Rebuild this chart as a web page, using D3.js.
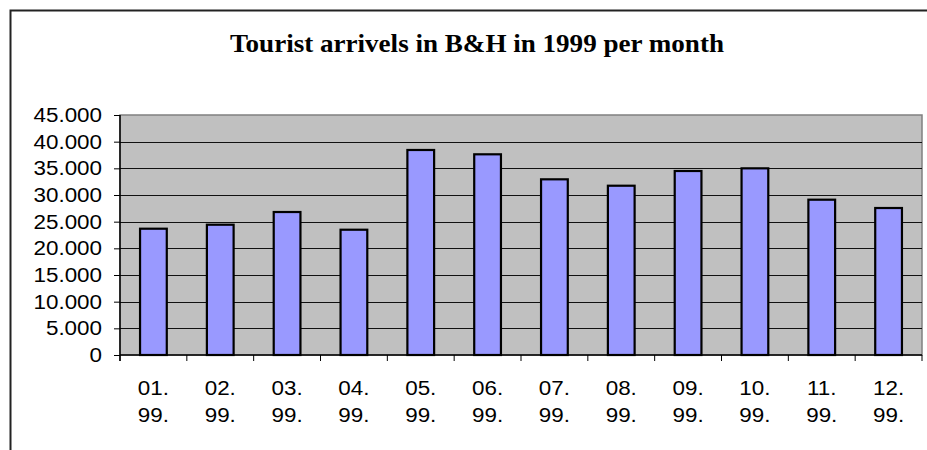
<!DOCTYPE html>
<html>
<head>
<meta charset="utf-8">
<script src="https://cdn.jsdelivr.net/npm/d3@7"></script>
<style>
  body { margin: 0; background: #fff; }
  svg { display: block; }
</style>
</head>
<body>
<div id="chart"></div>
<script>
// Set SVG area
var svgWidth = 927;
var svgHeight = 450;

// Plot area inside the chart frame
var margin = { top: 115, right: 6, bottom: 95, left: 120 };
var width = 922 - margin.left;
var height = 355 - margin.top;

// Data
var months = ["01.", "02.", "03.", "04.", "05.", "06.", "07.", "08.", "09.", "10.", "11.", "12."];
var yearLabel = "99.";
var arrivals = [23680, 24430, 26810, 23490, 38440, 37630, 32940, 31740, 34500, 35000, 29120, 27560];
var yTicks = [0, 5000, 10000, 15000, 20000, 25000, 30000, 35000, 40000, 45000];
var titleText = "Tourist arrivels in B&H in 1999 per month";

var svg = d3.select("#chart")
  .append("svg")
  .attr("width", svgWidth)
  .attr("height", svgHeight);

// outer chart frame (runs off the right and bottom)
svg.append("rect")
  .attr("x", 10.5)
  .attr("y", 10.5)
  .attr("width", 940)
  .attr("height", 460)
  .attr("fill", "#fff")
  .attr("stroke", "#222")
  .attr("stroke-width", 2);

// title
var title = svg.append("text")
  .attr("x", 477)
  .attr("y", 52)
  .attr("text-anchor", "middle")
  .style("font-family", "'Liberation Serif', 'Times New Roman', serif")
  .style("font-weight", "bold")
  .style("font-size", "25px")
  .text(titleText);
title.attr("textLength", 494).attr("lengthAdjust", "spacingAndGlyphs");

var chartGroup = svg.append("g")
  .attr("transform", `translate(${margin.left}, ${margin.top})`);

// scales
var xScale = d3.scaleBand()
  .domain(months)
  .range([0, width])
  .padding(0);

var yScale = d3.scaleLinear()
  .domain([0, 45000])
  .range([height, 0]);

// plot background
chartGroup.append("rect")
  .attr("x", 0)
  .attr("y", 0)
  .attr("width", width)
  .attr("height", height)
  .attr("fill", "#c0c0c0")
  .attr("stroke", "#808080")
  .attr("stroke-width", 1.5);

// gridlines
chartGroup.append("g")
  .selectAll("line")
  .data(yTicks.filter(d => d > 0 && d < 45000))
  .enter()
  .append("line")
  .attr("x1", 0)
  .attr("x2", width)
  .attr("y1", d => Math.round(yScale(d)) + 0.5)
  .attr("y2", d => Math.round(yScale(d)) + 0.5)
  .attr("stroke", "#111")
  .attr("stroke-width", 1);

// bars, Excel gap width 150%
var barWidth = xScale.bandwidth() / 2.5;
chartGroup.selectAll(".bar")
  .data(arrivals)
  .enter()
  .append("rect")
  .attr("class", "bar")
  .attr("x", (d, i) => xScale(months[i]) + (xScale.bandwidth() - barWidth) / 2)
  .attr("y", d => yScale(d))
  .attr("width", barWidth)
  .attr("height", d => height - yScale(d))
  .attr("fill", "#9999ff")
  .attr("stroke", "#000")
  .attr("stroke-width", 2.2);

// y axis
var leftAxis = d3.axisLeft(yScale)
  .tickValues(yTicks)
  .tickSize(6)
  .tickPadding(12)
  .tickFormat(d => d === 0 ? "0" : d3.format(",")(d).replace(/,/g, "."));

var yAxis = chartGroup.append("g").call(leftAxis);
yAxis.select(".domain").attr("stroke", "#000").attr("stroke-width", 1.5)
  .attr("d", `M0,0V${height + 6}`);
yAxis.selectAll(".tick line").attr("stroke", "#000");
yAxis.selectAll("text")
  .style("font-family", "'Liberation Sans', Arial, sans-serif")
  .style("font-size", "20px")
  .attr("fill", "#000");

// x axis: ticks at the category boundaries
var xAxis = chartGroup.append("g")
  .attr("transform", `translate(0, ${height})`);
xAxis.append("line")
  .attr("x1", 0).attr("x2", width)
  .attr("y1", 0).attr("y2", 0)
  .attr("stroke", "#000").attr("stroke-width", 1.5);
xAxis.selectAll(".xtick")
  .data(d3.range(months.length + 1))
  .enter()
  .append("line")
  .attr("class", "xtick")
  .attr("x1", i => i * xScale.step())
  .attr("x2", i => i * xScale.step())
  .attr("y1", 0)
  .attr("y2", 6)
  .attr("stroke", "#000");

var xLabels = xAxis.selectAll(".xlabel")
  .data(months)
  .enter()
  .append("text")
  .attr("class", "xlabel")
  .attr("x", d => xScale(d) + xScale.bandwidth() / 2)
  .attr("text-anchor", "middle")
  .style("font-family", "'Liberation Sans', Arial, sans-serif")
  .style("font-size", "20px")
  .attr("fill", "#000");
xLabels.append("tspan")
  .attr("x", d => xScale(d) + xScale.bandwidth() / 2)
  .attr("y", 40)
  .text(d => d);
xLabels.append("tspan")
  .attr("x", d => xScale(d) + xScale.bandwidth() / 2)
  .attr("y", 67)
  .text(yearLabel);

// the original's axis text is slightly wider than the font
svg.selectAll(".tick text, .xlabel tspan").each(function() {
  var len = this.getComputedTextLength();
  d3.select(this).attr("textLength", len * 1.12).attr("lengthAdjust", "spacingAndGlyphs");
});
</script>
</body>
</html>
